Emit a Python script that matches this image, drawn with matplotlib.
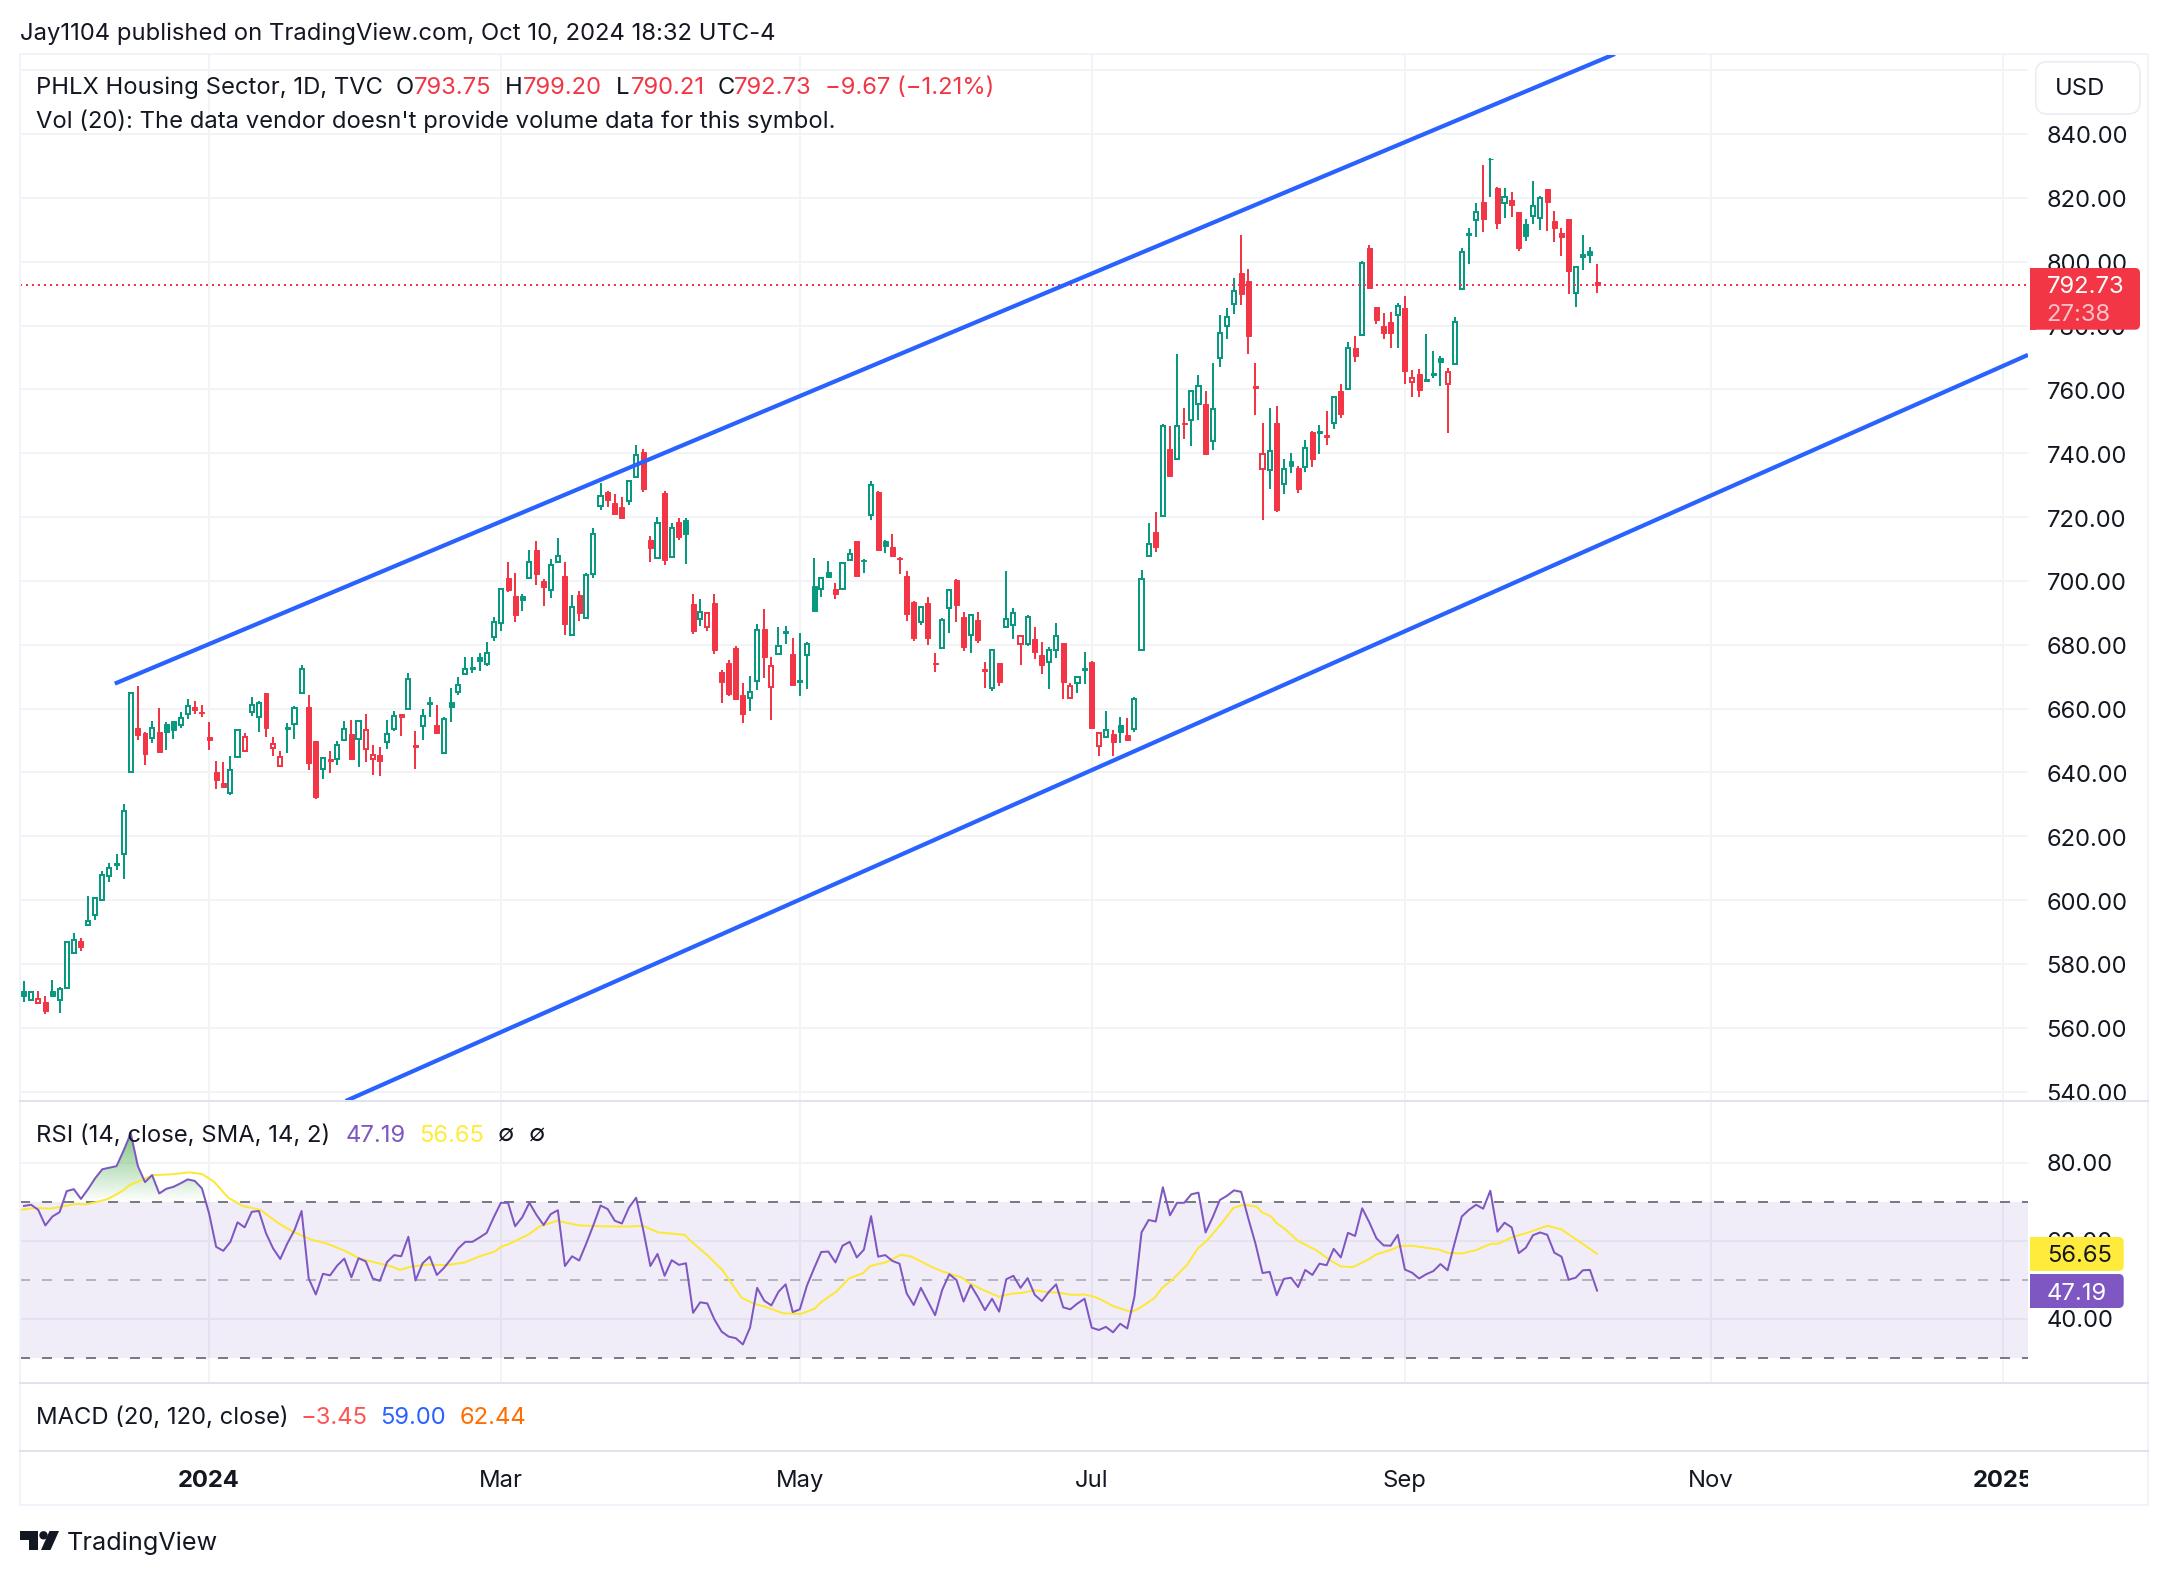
import numpy as np
import matplotlib
matplotlib.use("Agg")
import matplotlib.pyplot as plt
from matplotlib.patches import FancyBboxPatch, Rectangle, Polygon, Circle
from matplotlib.path import Path
from matplotlib.transforms import ScaledTranslation

plt.rcParams['font.family'] = ['Inter', 'DejaVu Sans']

# ---------------- data ----------------
# each row: high, body top, body bottom, low, style
# style: a = hollow green, b = filled green, c = hollow red, d = filled red
rows = [
(574.5,571.6,569.8,568.2,'b'),(571.4,571.1,568.7,568.5,'a'),(571.5,569.1,567.7,567.7,'c'),(570.0,568.0,565.1,564.3,'d'),
(575.0,571.4,570.1,570.1,'b'),(572.7,572.1,568.6,564.7,'a'),(587.1,586.8,572.4,572.4,'a'),(589.6,587.6,583.3,583.3,'a'),
(588.0,587.1,585.4,583.9,'d'),(601.3,593.3,592.1,592.1,'a'),(600.9,600.6,595.2,593.8,'a'),(609.0,607.7,599.9,599.9,'a'),
(611.5,610.2,607.5,605.8,'a'),(614.5,611.5,611.0,609.4,'b'),(630.1,628.0,614.5,606.6,'a'),(665.1,664.8,640.0,640.0,'a'),
(667.0,653.8,651.7,650.2,'d'),(652.6,652.3,645.9,642.3,'d'),(656.1,654.0,650.7,649.3,'a'),(660.2,652.6,646.5,646.5,'d'),
(655.7,655.2,652.5,647.0,'b'),(656.1,656.1,653.3,650.5,'b'),(658.8,657.0,655.0,653.9,'a'),(662.9,660.9,658.2,656.7,'a'),
(662.4,660.4,659.4,658.3,'d'),(661.1,658.9,658.5,657.4,'d'),(655.8,651.0,650.0,647.0,'d'),(643.6,640.1,637.6,634.8,'d'),
(643.2,636.6,635.5,635.5,'d'),(645.0,640.9,633.4,633.0,'a'),(653.5,653.2,644.8,644.6,'a'),(652.3,651.2,646.6,646.6,'c'),
(663.5,661.2,658.9,657.7,'a'),(662.3,661.8,657.3,652.7,'a'),(664.8,664.8,653.8,651.2,'d'),(651.0,649.0,647.5,645.0,'c'),
(646.6,644.9,641.9,641.9,'c'),(655.4,654.1,653.7,646.1,'b'),(660.7,660.1,655.2,650.5,'a'),(673.6,672.5,664.9,664.8,'a'),
(664.3,660.4,643.0,640.6,'d'),(649.8,649.7,632.4,631.7,'d'),(644.7,644.6,641.0,638.0,'a'),(646.7,644.1,643.7,639.8,'d'),
(649.8,648.7,644.1,642.3,'a'),(656.1,653.7,650.1,650.1,'a'),(656.4,651.9,644.2,643.9,'d'),(656.3,656.0,650.4,641.7,'a'),
(658.3,653.4,647.2,643.3,'c'),(648.5,645.6,644.3,639.2,'c'),(648.0,645.4,643.7,638.9,'d'),(656.4,652.1,649.4,647.4,'a'),
(659.2,657.8,653.7,653.1,'a'),(658.4,658.3,657.2,651.4,'d'),(671.0,669.2,659.9,659.7,'a'),(653.0,648.5,648.1,641.1,'d'),
(659.9,657.8,654.4,650.3,'a'),(663.5,662.2,661.4,657.5,'b'),(661.1,654.7,652.4,652.4,'d'),(657.2,656.6,646.0,646.0,'a'),
(666.3,662.0,660.6,655.9,'b'),(669.8,667.5,665.3,664.4,'a'),(676.0,672.5,670.7,670.7,'a'),(676.0,673.0,672.5,671.2,'b'),
(677.3,676.2,675.0,671.9,'b'),(680.7,677.5,674.0,673.4,'a'),(688.6,687.2,682.5,681.3,'a'),(697.7,697.4,686.7,684.4,'a'),
(705.8,700.8,697.1,696.6,'d'),(702.4,695.2,689.3,687.2,'d'),(695.8,695.3,694.0,690.6,'b'),(709.6,706.0,700.8,700.8,'a'),
(712.4,709.6,702.3,698.7,'d'),(700.5,699.9,698.2,692.1,'d'),(707.0,705.1,697.0,694.7,'a'),(713.3,707.9,705.9,705.9,'a'),
(705.8,701.5,686.6,683.0,'d'),(695.5,691.9,682.9,682.9,'a'),(696.7,695.6,690.0,687.5,'d'),(702.4,701.7,688.3,688.3,'a'),
(716.5,714.8,702.0,701.0,'a'),(730.8,726.7,723.6,722.2,'a'),(728.2,727.7,725.3,723.2,'d'),(727.2,724.3,721.0,721.0,'d'),
(726.2,723.0,719.8,719.8,'d'),(731.5,731.2,725.1,723.9,'a'),(742.6,739.5,732.4,732.4,'a'),(741.3,740.4,728.9,727.8,'d'),
(714.0,712.8,710.3,705.9,'d'),(719.9,718.2,707.2,707.0,'a'),(728.2,727.5,706.5,705.0,'d'),(718.0,716.7,707.4,707.4,'a'),
(719.6,718.5,713.8,712.8,'d'),(719.6,719.1,714.7,705.3,'b'),(695.9,692.8,684.3,683.4,'d'),(694.3,690.4,688.1,685.9,'a'),
(690.4,689.8,685.7,684.3,'c'),(695.9,693.1,678.3,677.1,'d'),(672.1,671.5,668.4,661.6,'d'),(675.2,674.3,664.6,663.9,'d'),
(679.6,679.0,663.0,663.0,'d'),(667.9,664.1,658.4,655.5,'d'),(670.2,665.3,663.2,659.2,'a'),(686.4,684.7,668.5,665.8,'a'),
(691.2,684.8,676.1,669.7,'d'),(676.0,673.4,666.6,656.4,'c'),(685.6,679.7,677.1,676.8,'a'),(685.9,684.2,683.6,680.2,'b'),
(682.1,677.1,667.4,667.4,'d'),(683.6,668.8,668.4,663.9,'b'),(681.0,680.3,676.7,666.2,'a'),(707.1,698.3,690.7,690.7,'b'),
(701.1,701.0,697.4,695.1,'a'),(706.1,702.9,701.1,701.1,'b'),(699.2,697.3,696.0,694.3,'d'),(706.0,705.7,697.3,697.3,'a'),
(709.9,708.5,706.4,706.4,'a'),(712.5,712.5,701.5,701.5,'d'),(706.8,706.5,706.1,702.5,'b'),(731.2,730.1,720.5,719.1,'a'),
(728.2,727.8,709.7,709.7,'d'),(712.8,712.5,710.9,708.8,'b'),(714.7,710.6,707.8,707.8,'d'),(707.4,707.2,706.8,702.1,'d'),
(703.1,701.5,689.6,687.4,'d'),(693.7,693.4,682.1,681.2,'d'),(691.8,691.7,687.2,686.2,'a'),(695.0,693.0,682.1,679.9,'d'),
(677.4,674.2,673.8,671.5,'d'),(688.3,687.6,678.9,678.9,'a'),(697.3,697.0,691.4,683.7,'a'),(700.6,700.3,692.4,687.1,'d'),
(690.1,688.6,679.4,678.0,'d'),(689.5,689.4,683.0,677.4,'a'),(690.1,687.7,681.5,680.5,'d'),(674.6,672.3,671.9,666.4,'d'),
(678.6,678.2,666.5,665.6,'a'),(674.3,674.3,668.3,667.1,'d'),(703.1,688.2,685.5,685.2,'a'),(691.4,690.0,686.3,681.8,'a'),
(683.0,682.8,680.3,673.6,'c'),(689.3,688.7,680.1,679.6,'a'),(685.5,681.8,677.7,675.5,'d'),(680.9,676.8,673.6,670.8,'d'),
(679.3,678.2,674.5,666.1,'a'),(686.8,682.6,678.4,675.8,'a'),(680.5,680.5,668.3,663.0,'d'),(667.9,667.1,663.4,663.4,'c'),
(670.2,669.9,668.0,664.9,'a'),(677.7,672.6,672.2,667.7,'b'),(674.9,674.6,653.9,653.9,'d'),(652.6,652.2,648.4,645.1,'c'),
(659.1,653.4,651.2,650.9,'a'),(653.2,651.9,649.5,645.1,'d'),(657.3,654.7,652.6,649.2,'b'),(657.0,651.6,650.3,650.3,'d'),
(663.6,663.0,653.5,652.7,'a'),(703.4,700.7,678.2,678.2,'a'),(718.1,711.7,707.7,707.7,'a'),(721.6,715.2,710.6,709.0,'d'),
(749.3,748.4,720.2,720.2,'a'),(748.4,741.2,733.0,733.0,'d'),(771.0,748.6,738.2,738.2,'a'),(754.1,749.5,749.0,744.3,'d'),
(759.7,759.4,750.3,742.3,'a'),(764.4,761.2,755.4,750.5,'a'),(759.4,755.3,739.9,739.9,'d'),(768.2,754.0,743.8,741.1,'a'),
(783.2,777.7,769.8,766.9,'a'),(785.4,782.7,780.0,775.9,'a'),(794.8,790.8,786.8,783.7,'a'),(808.4,796.4,790.0,786.5,'d'),
(797.6,793.8,776.8,771.1,'d'),(768.2,761.0,760.5,752.0,'d'),(749.4,739.9,735.1,719.2,'c'),(754.1,740.7,734.7,728.8,'a'),
(754.8,749.5,722.2,721.5,'d'),(738.1,735.0,730.4,727.2,'a'),(740.1,737.5,736.0,733.8,'b'),(736.0,735.5,728.8,727.6,'d'),
(744.2,741.5,735.6,734.1,'a'),(747.0,746.6,738.3,735.6,'d'),(748.7,746.8,746.4,739.8,'b'),(753.2,745.6,745.2,742.6,'d'),
(757.9,757.6,749.6,747.6,'a'),(761.6,759.4,752.3,751.1,'d'),(774.7,772.8,760.0,760.0,'a'),(776.7,773.0,770.4,768.5,'d'),
(800.1,799.5,777.0,776.8,'a'),(805.1,804.2,791.6,791.6,'d'),(785.7,785.7,781.7,780.5,'d'),(783.9,779.7,777.8,775.8,'d'),
(784.2,781.0,777.5,773.1,'d'),(787.0,786.2,783.2,772.8,'a'),(789.2,785.4,765.8,761.7,'d'),(766.0,763.6,762.4,757.7,'c'),
(766.3,764.7,759.9,757.7,'d'),(777.3,763.2,762.6,762.4,'b'),(771.9,765.2,764.6,763.7,'b'),(770.4,769.9,768.7,761.0,'b'),
(766.6,765.5,761.6,746.2,'c'),(782.6,781.2,767.9,767.9,'a'),(804.4,803.1,791.5,791.5,'a'),(810.7,808.9,808.5,799.3,'b'),
(818.3,815.5,813.0,807.7,'a'),(830.3,818.7,813.4,809.3,'d'),(832.4,832.3,832.1,820.3,'b'),(823.3,823.0,812.1,810.2,'d'),
(823.0,820.4,818.3,813.7,'a'),(821.8,819.3,817.8,814.0,'d'),(815.6,815.6,804.3,803.3,'d'),(813.4,811.8,808.0,806.5,'b'),
(825.3,817.5,814.2,811.8,'a'),(820.6,819.8,813.8,809.9,'a'),(822.8,822.8,818.7,809.6,'d'),(815.9,812.7,810.5,806.2,'d'),
(810.5,809.0,807.8,801.8,'d'),(813.4,813.4,797.1,789.9,'d'),(798.6,798.3,790.3,785.8,'a'),(808.3,802.3,801.6,797.4,'b'),
(804.6,803.3,802.2,799.6,'b'),(799.2,793.75,792.73,790.21,'d'),
]
highs = [r[0] for r in rows]
body_tops = [r[1] for r in rows]
body_bottoms = [r[2] for r in rows]
lows = [r[3] for r in rows]
kinds = [r[4] for r in rows]

rsi = [68.9,69.2,67.9,63.9,66.2,67.3,72.7,73.2,70.7,73.2,76.0,78.3,78.7,79.1,83.1,87.5,79.1,75.0,76.8,72.1,
73.3,73.8,74.7,75.7,75.3,73.4,67.0,58.4,57.4,59.7,64.7,63.4,67.4,67.6,61.9,58.0,55.3,59.3,62.7,67.6,
50.3,46.2,51.5,51.1,53.6,55.4,50.6,55.5,54.7,50.3,49.7,54.5,56.3,56.0,61.0,49.8,54.2,55.9,51.2,53.0,
55.3,58.0,59.7,59.7,60.8,62.0,66.0,69.7,69.7,63.7,66.0,69.7,66.6,64.0,66.8,67.8,53.5,56.0,54.9,59.3,
64.0,69.0,68.1,65.1,64.4,68.5,71.0,62.7,53.5,56.6,51.0,55.0,53.8,54.2,41.5,44.2,43.9,39.8,36.7,35.4,
35.0,33.4,37.7,47.9,44.6,43.4,46.9,48.8,41.7,42.4,48.5,52.9,57.1,57.2,54.4,58.7,59.7,55.7,57.7,66.3,
55.9,56.3,54.8,54.1,46.5,43.5,47.9,44.4,40.9,47.4,51.4,49.9,44.4,48.6,45.6,42.2,45.1,41.8,50.1,51.0,
47.9,50.4,46.1,44.5,46.9,48.8,42.9,42.4,43.9,45.1,37.7,37.1,37.9,36.5,38.7,37.5,45.6,62.1,65.3,64.9,
73.7,66.5,69.7,69.7,71.9,72.3,62.1,66.0,70.4,71.5,72.9,72.5,65.7,59.3,51.7,52.0,46.0,50.2,50.5,48.1,
52.5,51.2,54.1,53.7,57.9,55.7,62.0,61.2,68.3,64.7,60.6,58.8,58.7,61.5,52.6,51.8,50.3,51.4,52.2,54.0,
52.4,59.5,66.2,67.9,69.2,68.2,72.8,62.3,64.6,63.4,56.8,58.2,61.4,62.1,61.5,56.9,55.9,50.0,50.5,52.4,
52.5,47.19]

sma_bars = [-0.5,1.6,3.7,5.2,7.2,8.7,10.2,11.7,13.7,14.9,16.7,18.2,20.7,23.2,25,26.7,28.7,30.7,33.2,35.8,37.8,40.3,42.8,45.3,47.3,49.8,51.8,52.8,54.3,56.8,59.3,61.9,63.9,66.1,67.1,68.1,70.9,72.4,74.9,
78,81,84.5,87,89.1,92.8,93.6,96.1,98.1,100.8,102.6,104.1,106.6,109.1,111.1,112.1,114.1,115.9,117.9,118.9,121.2,123.2,124.7,127.7,129.2,131.7,132.7,134.7,137,138.7,140.2,142,143.7,145.2,147.2,149,
150.4,151.4,152.9,155.6,156.9,158.9,159.9,161.4,163.4,164.9,166.2,168.2,169.9,171.4,173.2,173.9,175.2,175.9,177.2,179,181.5,183.5,185,186.7,189,190,192,193.3,195,198.8,200,202,204,206.1,207.1,209.1,211,214,216,217.1,221]
sma_values = [67.9,68.4,68.2,68.7,69.4,69.3,69.9,70.6,72.6,74.3,75.7,76.8,77.0,77.5,77.1,75.1,71.0,68.9,67.9,64.4,62.3,60.3,59.1,57.2,55.3,54.2,53.3,52.5,53.3,53.9,53.7,54.4,55.9,57.2,58.5,59.1,61.6,63.6,65.1,
63.9,63.7,63.6,63.8,62.1,61.5,60.0,56.1,52.5,45.4,43.8,43.1,41.4,41.2,42.6,44.4,46.9,50.3,51.7,53.5,54.5,56.4,55.9,53.1,52.0,50.6,49.2,47.4,45.6,46.4,46.6,47.3,46.8,46.7,46.1,46.2,
45.6,44.8,43.3,41.7,42.9,45.4,47.9,50.1,53.8,58.0,60.0,64.3,68.4,69.2,68.7,67.3,66.2,64.6,62.9,59.9,57.6,55.0,53.4,53.2,55.3,56.5,57.6,58.6,58.7,57.7,56.9,56.7,57.6,59.2,59.2,60.9,61.9,63.8,62.9,61.5,56.65]

upper_bars, upper_prices = [12.76, 223.5], [667.8, 865.06]
lower_bars, lower_prices = [45.2, 281.54], [537.05, 770.8]

last_price = 792.73
month_bars = [26, 67, 109, 150, 194, 237, 278]
month_labels = ['2024', 'Mar', 'May', 'Jul', 'Sep', 'Nov', '2025']
price_ticks = list(range(540, 880, 20))
price_labels = [f'{p}.00' if p <= 840 else '' for p in price_ticks]
rsi_ticks = [40, 60, 80]
rsi_labels = ['40.00', '60.00', '80.00']

# ---------------- style ----------------
W, H = 2168, 1576
PX = 0.72  # points per pixel at dpi 100
GREEN, RED = '#089981', '#F23645'
PURPLE, YELLOW = '#7E57C2', '#FFEB3B'
TXT = '#131722'
GRID = '#F2F3F5'
FS = 17.15
XLIM = (-0.56, 281.54)

fig = plt.figure(figsize=(W / 100, H / 100), dpi=100, facecolor='white')


def pane(x0, y0, x1, y1, **kw):
    return fig.add_axes([x0 / W, 1 - y1 / H, (x1 - x0) / W, (y1 - y0) / H], **kw)


def style_pane(ax, xgrid=True):
    for s in ax.spines.values():
        s.set_visible(False)
    ax.set_xlim(*XLIM)
    ax.set_axisbelow(True)
    ax.tick_params(length=0, labelbottom=False, labelleft=False, labelright=True,
                   left=False, right=False, bottom=False, pad=13.3, labelsize=FS, labelcolor=TXT)
    ax.grid(True, axis='y', color=GRID, lw=2 * PX)
    if xgrid:
        ax.set_xticks(month_bars)
        ax.grid(True, axis='x', color=GRID, lw=2 * PX)
    else:
        ax.set_xticks([])


def nudge_ticklabels(ax, dy_px):
    off = ScaledTranslation(0, dy_px / 100, fig.dpi_scale_trans)
    for lab in ax.get_yticklabels():
        lab.set_ha('left')
        lab.set_transform(lab.get_transform() + off)


# ---------------- price pane ----------------
ax = pane(20, 54, 2028, 1101)
style_pane(ax)
ax.set_ylim(537.05, 865.06)
ax.yaxis.tick_right()
ax.set_yticks(price_ticks, price_labels)
nudge_ticklabels(ax, -1)

x = np.arange(len(highs))
color_of = {'a': GREEN, 'b': GREEN, 'c': RED, 'd': RED}
wick_colors = [color_of[k] for k in kinds]
ax.vlines(x, body_tops, highs, colors=wick_colors, lw=2 * PX, zorder=3, capstyle='butt')
ax.vlines(x, lows, body_bottoms, colors=wick_colors, lw=2 * PX, zorder=3, capstyle='butt')
tops, bots = np.array(body_tops), np.array(body_bottoms)
for k in 'abcd':
    idx = np.array([i for i, kk in enumerate(kinds) if kk == k])
    if k in 'ac':
        ax.bar(idx, tops[idx] - bots[idx], bottom=bots[idx], width=0.58, facecolor='white',
               edgecolor=color_of[k], linewidth=2 * PX, zorder=4)
    else:
        ax.bar(idx, tops[idx] - bots[idx], bottom=bots[idx], width=0.70, facecolor=color_of[k],
               edgecolor=color_of[k], linewidth=1 * PX, zorder=4)

ax.plot(upper_bars, upper_prices, color='#2962FF', lw=4.2 * PX, zorder=6, solid_capstyle='butt')
ax.plot(lower_bars, lower_prices, color='#2962FF', lw=4.2 * PX, zorder=6, solid_capstyle='butt')
ax.axhline(last_price, color=RED, lw=2 * PX, ls=(0, (1, 2)), zorder=5)

# ---------------- RSI pane ----------------
ar = pane(20, 1102, 2028, 1382)
style_pane(ar)
ar.set_ylim(23.77, 95.54)
ar.yaxis.tick_right()
ar.set_yticks(rsi_ticks, rsi_labels)
nudge_ticklabels(ar, 0)
ar.axhspan(30, 70, color=PURPLE, alpha=0.105, lw=0, zorder=1)
for lvl, a in [(70, 1), (30, 1), (50, 0.5)]:
    ar.axhline(lvl, color='#787B86', alpha=a, lw=2 * PX, ls=(0, (5, 6)), zorder=1.5)

rsi_x = np.arange(len(rsi))
rsi_arr = np.array(rsi)
poly = ar.fill_between(rsi_x, 70, rsi_arr, where=rsi_arr > 70, interpolate=True, facecolor='none', lw=0)
clip = Path.make_compound_path(*poly.get_paths())
grad = np.zeros((256, 1, 4))
grad[..., 0], grad[..., 1], grad[..., 2] = 76 / 255, 175 / 255, 80 / 255
grad[..., 3] = np.linspace(0.72, 0, 256)[:, None]
im = ar.imshow(grad, extent=[XLIM[0], XLIM[1], 70, max(rsi)], aspect='auto', origin='upper', zorder=1.8)
im.set_clip_path(clip, transform=ar.transData)
ar.set_xlim(*XLIM)
ar.set_ylim(23.77, 95.54)
ar.plot(sma_bars, sma_values, color='#FDE835', lw=2 * PX, zorder=3)
ar.plot(rsi_x, rsi, color=PURPLE, lw=2 * PX, zorder=4)

# ---------------- MACD pane (no marks visible) ----------------
am = pane(20, 1384, 2028, 1450)
style_pane(am, xgrid=False)
am.set_yticks([])
am.grid(False)

# ---------------- time axis ----------------
at = pane(20, 1452, 2028, 1505)
for s in at.spines.values():
    s.set_visible(False)
at.set_xlim(*XLIM)
at.set_ylim(0, 1)
at.set_yticks([])
at.set_xticks([])
at.patch.set_alpha(0)
for b, lab in zip(month_bars, month_labels):
    at.text(b, 0.495, lab, ha='center', va='center_baseline', fontsize=FS, color=TXT,
            fontweight='bold' if lab.isdigit() else 'normal', clip_on=True)

# ---------------- overlay in figure pixels: frame, labels, legends ----------------
ov = fig.add_axes([0, 0, 1, 1], zorder=20)
ov.set_xlim(0, W)
ov.set_ylim(H, 0)
ov.axis('off')
ov.patch.set_alpha(0)

FR1, FR2 = '#F0F3FA', '#E0E3EB'
ov.plot([20, 2147.5, 2147.5, 20, 20], [54, 54, 1505, 1505, 54], color=FR1, lw=2 * PX)
for yy in (1101, 1382.7, 1450.7):
    ov.plot([20, 2147.5], [yy, yy], color=FR2, lw=2 * PX)


def t(x, y, s, color=TXT, **kw):
    kw.setdefault('fontsize', FS)
    return ov.text(x, y, s, color=color, ha='left', va='baseline', **kw)


t(20, 40, 'Jay1104 published on TradingView.com, Oct 10, 2024 18:32 UTC-4')
t(36, 93.5, 'PHLX Housing Sector, 1D, TVC')
for xx, lab in [(396, 'O'), (505, 'H'), (616, 'L'), (717.5, 'C')]:
    t(xx, 93.5, lab)
for xx, val in [(414, '793.75'), (523, '799.20'), (631, '790.21'), (733.5, '792.73'), (825, '\u22129.67 (\u22121.21%)')]:
    t(xx, 93.5, val, color=RED)
t(36, 127.5, "Vol (20): The data vendor doesn't provide volume data for this symbol.")

t(36, 1141.5, 'RSI (14, close, SMA, 14, 2)')
t(345.5, 1141.5, '47.19', color=PURPLE)
t(419, 1141.5, '56.65', color=YELLOW)
t(498, 1141.5, '\u2205')
t(529, 1141.5, '\u2205')

t(36, 1424.5, 'MACD (20, 120, close)')
t(301, 1424.5, '\u22123.45', color='#FF5252')
t(380.5, 1424.5, '59.00', color='#2962FF')
t(460, 1424.5, '62.44', color='#FF6D00')

t(67, 1550, 'TradingView', fontsize=18.2)


def rbox(x0, y0, x1, y1, fc, ec='none', r=5, square_left=True):
    ov.add_patch(FancyBboxPatch((x0, y0), x1 - x0, y1 - y0, boxstyle=f'round,pad=0,rounding_size={r}',
                                fc=fc, ec=ec, lw=1.5 * PX, zorder=5))
    if square_left:
        ov.add_patch(Rectangle((x0, y0), r + 1, y1 - y0, fc=fc, ec='none', zorder=5))


rbox(2035.7, 61.7, 2140, 114, 'white', ec='#E9EBF1', r=12, square_left=False)
ov.text(2055, 95, 'USD', fontsize=FS, color=TXT, va='baseline', zorder=6)

rbox(2030, 268, 2140, 329.7, RED, r=5)
ov.text(2046.7, 292.6, f'{last_price:.2f}', fontsize=FS, color='white', va='baseline', zorder=6)
ov.text(2046.7, 320.5, '27:38', fontsize=FS, color='#FBC2C8', va='baseline', zorder=6)

rbox(2030, 1237, 2123.7, 1271, YELLOW, r=5)
ov.text(2046.7, 1262.5, '56.65', fontsize=FS, color=TXT, va='baseline', zorder=6)
rbox(2030, 1274, 2123.7, 1308, PURPLE, r=5)
ov.text(2046.7, 1299.5, '47.19', fontsize=FS, color='white', va='baseline', zorder=6)

# TradingView logo
LOGO = '#131722'
ov.add_patch(Polygon([(20, 1531), (37.5, 1531), (37.5, 1550), (29, 1550), (29, 1539.5), (20, 1539.5)], closed=True, fc=LOGO, ec='none'))
ov.add_patch(Circle((43.5, 1535.3), 4.2, fc=LOGO, ec='none'))
ov.add_patch(Polygon([(49.5, 1531), (59, 1531), (50.5, 1550), (41, 1550)], closed=True, fc=LOGO, ec='none'))

fig.savefig('out.png', dpi=100, facecolor='white')
